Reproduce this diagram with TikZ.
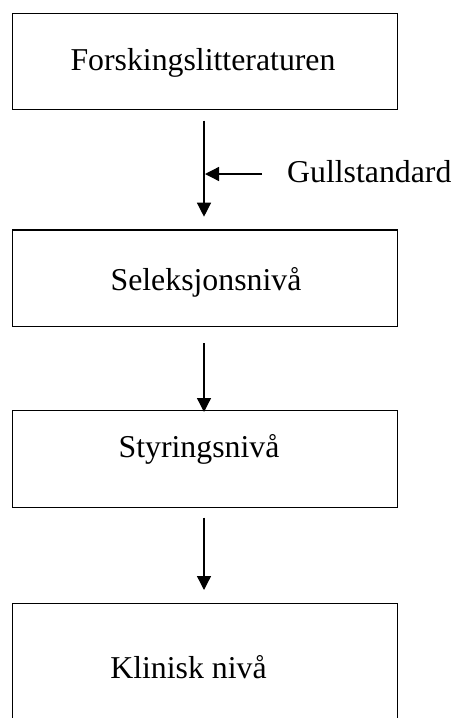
\documentclass[tikz,border=0pt]{standalone}
\usepackage{fontspec}
\setmainfont{Liberation Serif}
\usetikzlibrary{arrows.meta}
\begin{document}
\begin{tikzpicture}[x=1pt,y=-1pt,
  box/.style={draw=black, line width=1.3pt, rectangle, anchor=north west, minimum width=385pt, inner sep=0pt},
  lbl/.style={font=\fontsize{31.8pt}{38pt}\selectfont, anchor=base, inner sep=0pt},
  arr/.style={draw=black, line width=1.3pt, -{Triangle[length=14pt,width=14pt]}}]
\useasboundingbox (0,0) rectangle (453,718);
\clip (0,0) rectangle (453,718);
\node[box, minimum height=96.3pt] (b1) at (11.7,12.7) {};
\node[box, minimum height=96.4pt] (b2) at (11.7,229.3) {};
\node[box, minimum height=96.7pt] (b3) at (11.7,410) {};
\node[box, minimum height=140pt] (b4) at (11.7,602.7) {};
\node[lbl] (t1) at (203,70) {Forskingslitteraturen};
\node[lbl] (t2) at (206,290) {Seleksjonsnivå};
\node[lbl] (t3) at (199,457) {Styringsnivå};
\node[lbl] (t4) at (188.5,678) {Klinisk nivå};
\node[lbl, anchor=base west] (g) at (287,182.7) {Gullstandard};
\coordinate (a1s) at (204,120.7);
\coordinate (a1e) at (204,216.7);
\coordinate (gs) at (262,174);
\coordinate (ge) at (205,174);
\coordinate (a2s) at (204,343.3);
\coordinate (a2e) at (204,412);
\coordinate (a3s) at (204,517.7);
\coordinate (a3e) at (204,590);
\draw[arr] (a1s) -- (a1e);
\draw[arr] (gs) -- (ge);
\draw[arr] (a2s) -- (a2e);
\draw[arr] (a3s) -- (a3e);
\end{tikzpicture}
\end{document}
